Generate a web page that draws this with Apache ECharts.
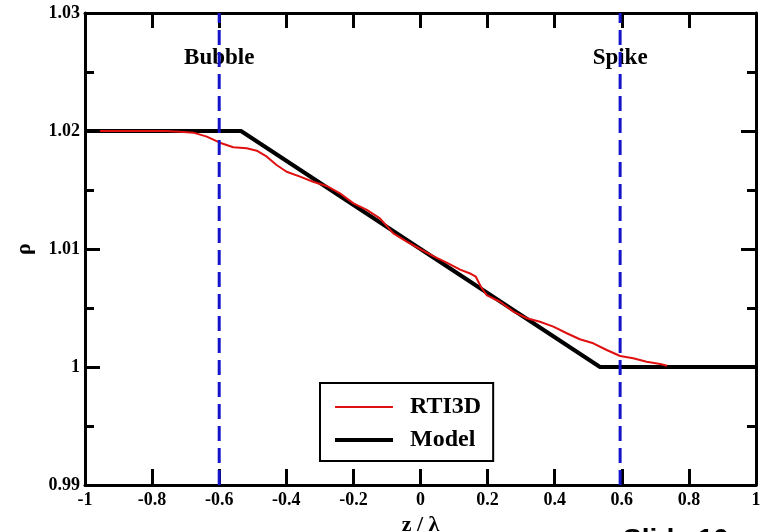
<!DOCTYPE html>
<html>
<head>
<meta charset="utf-8">
<script src="https://cdn.jsdelivr.net/npm/echarts@6/dist/echarts.min.js"></script>
<style>
  html, body { margin: 0; padding: 0; background: #fff; }
  #chart { width: 762px; height: 532px; }
</style>
</head>
<body>
<div id="chart"></div>
<script>
// Density profile across the mixing layer: simulation vs. linear model
const xTickLabels = ['-1', '-0.8', '-0.6', '-0.4', '-0.2', '0', '0.2', '0.4', '0.6', '0.8', '1'];
const yTickLabels = ['0.99', '1', '1.01', '1.02', '1.03'];

const rtiX = [-0.955, -0.85, -0.76, -0.717, -0.677, -0.637, -0.598, -0.558, -0.518, -0.488,
  -0.458, -0.429, -0.399, -0.359, -0.320, -0.280, -0.240, -0.200, -0.160, -0.121,
  -0.081, -0.041, -0.0015, 0.038, 0.078, 0.118, 0.150, 0.165, 0.180, 0.197,
  0.237, 0.277, 0.317, 0.356, 0.396, 0.436, 0.475, 0.515, 0.555, 0.595,
  0.634, 0.674, 0.714, 0.735];
const rtiY = [1.0200, 1.0200, 1.0200, 1.01994, 1.01986, 1.01952, 1.01901, 1.01862, 1.01853, 1.01833,
  1.01782, 1.01712, 1.01655, 1.01613, 1.01570, 1.01534, 1.01472, 1.01387, 1.01331, 1.01260,
  1.01133, 1.01062, 1.01000, 1.00940, 1.00885, 1.00825, 1.00790, 1.00765, 1.00680, 1.00610,
  1.00553, 1.00469, 1.00413, 1.00384, 1.00342, 1.00286, 1.00235, 1.00201, 1.00144, 1.00093,
  1.00074, 1.00045, 1.00025, 1.00010];

const modelX = [-1, -0.535, 0.535, 1];
const modelY = [1.02, 1.02, 1.0, 1.0];

const frontNames = ['Bubble', 'Spike'];
const frontX = [-0.6, 0.595];
const frontLabelY = 1.0262;

const X_MIN = -1, X_MAX = 1, X_STEP = 0.2;
const Y_MIN = 0.99, Y_MAX = 1.03, Y_STEP = 0.01;

const zip = (xs, ys) => xs.map((x, i) => [x, ys[i]]);

const serif = '"Liberation Serif", "Times New Roman", serif';
const tickFont = { fontFamily: serif, fontWeight: 'bold', fontSize: 18, color: '#000' };

const xLabel = v => xTickLabels[Math.round((v - X_MIN) / X_STEP)] ?? '';
const yLabel = v => yTickLabels[Math.round((v - Y_MIN) / Y_STEP)] ?? '';

const axisLine = { show: true, onZero: false, lineStyle: { color: '#000', width: 3 } };

const frontLines = frontX.map((x, i) => ({
  name: frontNames[i] + ' front',
  type: 'line',
  data: [[x, Y_MIN], [x, Y_MAX]],
  symbol: 'none',
  silent: true,
  z: 6,
  lineStyle: { color: '#1414cc', width: 3, type: [15, 7] }
}));

const chart = echarts.init(document.getElementById('chart'), null, { renderer: 'canvas' });
chart.setOption({
  animation: false,
  backgroundColor: '#fff',
  grid: { left: 85, right: 6, top: 13, bottom: 47, containLabel: false, outerBoundsMode: 'none' },
  xAxis: [{
    type: 'value', position: 'bottom', min: X_MIN, max: X_MAX, interval: X_STEP,
    axisLine,
    axisTick: { show: true, inside: true, length: 16, lineStyle: { color: '#000', width: 3 } },
    axisLabel: Object.assign({ margin: 6, formatter: xLabel }, tickFont),
    splitLine: { show: false },
    name: 'z / λ', nameLocation: 'middle', nameGap: 28,
    nameTextStyle: { fontFamily: serif, fontWeight: 'bold', fontSize: 22, color: '#000' }
  }, {
    type: 'value', position: 'top', min: X_MIN, max: X_MAX, interval: X_STEP,
    axisLine,
    axisTick: { show: true, inside: true, length: 15, lineStyle: { color: '#000', width: 3 } },
    axisLabel: { show: false },
    splitLine: { show: false }
  }],
  yAxis: [{
    type: 'value', position: 'left', min: Y_MIN, max: Y_MAX, interval: Y_STEP,
    axisLine,
    axisTick: { show: true, inside: true, length: 15, lineStyle: { color: '#000', width: 3 } },
    minorTick: { show: true, splitNumber: 2, length: 9, lineStyle: { color: '#000', width: 3 } },
    axisLabel: Object.assign({ margin: 5, formatter: yLabel }, tickFont),
    splitLine: { show: false },
    name: 'ρ', nameLocation: 'middle', nameGap: 50, nameRotate: 90,
    nameTextStyle: { fontFamily: serif, fontWeight: 'bold', fontSize: 22, color: '#000' }
  }, {
    type: 'value', position: 'right', min: Y_MIN, max: Y_MAX, interval: Y_STEP,
    axisLine,
    axisTick: { show: true, inside: true, length: 15, lineStyle: { color: '#000', width: 3 } },
    minorTick: { show: true, splitNumber: 2, length: 9, lineStyle: { color: '#000', width: 3 } },
    axisLabel: { show: false },
    splitLine: { show: false }
  }],
  legend: {
    data: ['RTI3D', 'Model'],
    orient: 'vertical',
    left: 320, top: 383,
    padding: [12, 12, 9, 13],
    itemWidth: 58, itemHeight: 14, itemGap: 9,
    itemStyle: { opacity: 0 },
    lineStyle: { width: 'inherit' },
    borderColor: '#000', borderWidth: 2, borderRadius: 0,
    backgroundColor: '#fff',
    textStyle: { fontFamily: serif, fontWeight: 'bold', fontSize: 24, color: '#000', padding: [0, 0, 0, 12] },
    selectedMode: false
  },
  graphic: [{
    type: 'text', x: 623, y: 526, silent: true,
    style: {
      text: 'Slide 10', font: 'bold 28px "Liberation Sans", Arial, sans-serif',
      fill: '#000', verticalAlign: 'top', align: 'left'
    }
  }],
  series: [
    ...frontLines,
    {
      name: 'Model', type: 'line', data: zip(modelX, modelY),
      symbol: 'none', z: 3,
      lineStyle: { color: '#000', width: 4 }, itemStyle: { color: '#000' }
    },
    {
      name: 'RTI3D', type: 'line', data: zip(rtiX, rtiY),
      symbol: 'none', z: 4,
      lineStyle: { color: '#e01010', width: 2 }, itemStyle: { color: '#e01010' }
    },
    {
      name: 'front labels', type: 'scatter',
      data: frontX.map((x, i) => ({ value: [x, frontLabelY], name: frontNames[i] })),
      symbolSize: 1, silent: true, z: 2,
      itemStyle: { color: 'rgba(0,0,0,0)', opacity: 1 },
      label: {
        show: true, position: 'inside', formatter: p => p.name,
        fontFamily: serif, fontWeight: 'bold', fontSize: 23, color: '#000',
        textBorderWidth: 0, opacity: 1
      }
    }
  ]
});
</script>
</body>
</html>
